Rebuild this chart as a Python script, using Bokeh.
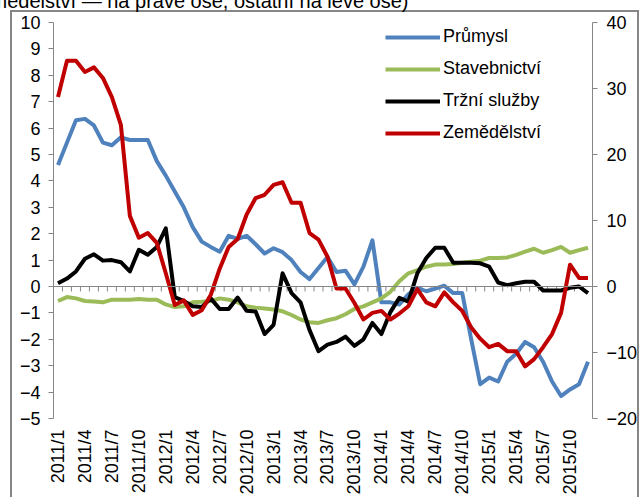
import math
from bokeh.plotting import figure
from bokeh.models import (Range1d, LinearAxis, FixedTicker, Legend, LegendItem, Span)
from bokeh.embed import file_html
from bokeh.resources import INLINE

# ---------------- data ----------------
months = [f"{y}/{m}" for y in range(2011, 2016) for m in range(1, 13)]

prumysl = [4.6, 5.45, 6.3, 6.35, 6.1, 5.45, 5.35, 5.65, 5.55, 5.55, 5.55, 4.75,
           4.2, 3.6, 3.0, 2.25, 1.7, 1.5, 1.32, 1.92, 1.8, 1.92, 1.6, 1.25,
           1.45, 1.3, 1.0, 0.55, 0.28, 0.7, 1.12, 0.55, 0.6, 0.08, 0.75, 1.75,
           -0.6, -0.6, -0.68, -0.3, -0.05, -0.18, -0.08, 0.03, -0.25, -0.25, -2.0, -3.7,
           -3.45, -3.6, -2.85, -2.55, -2.1, -2.3, -2.85, -3.6, -4.15, -3.9, -3.7, -2.85]

stavebnictvi = [-0.55, -0.4, -0.45, -0.55, -0.57, -0.6, -0.5, -0.5, -0.5, -0.47, -0.5, -0.5,
                -0.68, -0.78, -0.75, -0.6, -0.58, -0.55, -0.45, -0.5, -0.6, -0.75, -0.8, -0.83,
                -0.87, -0.94, -1.08, -1.25, -1.35, -1.38, -1.28, -1.2, -1.05, -0.85, -0.75, -0.6,
                -0.45, -0.2, 0.2, 0.5, 0.62, 0.75, 0.83, 0.83, 0.85, 0.9, 0.94, 0.98,
                1.08, 1.08, 1.1, 1.2, 1.32, 1.43, 1.28, 1.38, 1.5, 1.28, 1.38, 1.47]

trzni_sluzby = [0.12, 0.3, 0.57, 1.05, 1.22, 0.98, 1.0, 0.92, 0.57, 1.39, 1.2, 1.5,
                2.2, -0.4, -0.55, -0.75, -0.78, -0.45, -0.85, -0.85, -0.42, -0.92, -0.95, -1.8,
                -1.45, 0.5, -0.25, -0.6, -1.65, -2.45, -2.2, -2.1, -1.9, -2.25, -2.0, -1.38,
                -1.8, -0.97, -0.43, -0.57, 0.5, 1.08, 1.47, 1.47, 0.9, 0.9, 0.9, 0.88,
                0.75, 0.15, 0.05, 0.12, 0.18, 0.18, -0.15, -0.15, -0.15, -0.05, 0.0, -0.25]

zemedelstvi = [28.7, 34.2, 34.2, 32.5, 33.2, 31.6, 28.7, 24.5, 10.7, 7.4, 8.1, 6.6,
               2.0, -2.8, -2.1, -4.3, -3.6, -1.3, 2.7, 6.0, 7.2, 10.9, 13.4, 13.9,
               15.4, 15.8, 12.7, 12.7, 8.1, 7.1, 4.5, -0.3, -0.3, -2.5, -5.0, -4.0,
               -3.7, -5.0, -4.1, -3.0, -0.4, -2.4, -3.0, -0.9, -2.4, -3.7, -6.2, -7.9,
               -9.2, -8.7, -9.8, -9.8, -12.1, -11.0, -9.2, -7.2, -4.0, 3.3, 1.3, 1.3]

series_names = ["Průmysl", "Stavebnictví", "Tržní služby", "Zemědělství"]
left_ticks = list(range(-5, 11))
right_ticks = [-20, -10, 0, 10, 20, 30, 40]
label_step = 3
title_text = "(Zemědělství — na pravé ose, ostatní na levé ose)"

# ---------------- style / layout ----------------
FONT = "Liberation Sans"
FS = "18px"
GRAY = "#868686"
COLORS = ["#4F81BD", "#9BBB59", "#000000", "#C00000"]
SHIFT = 30                      # canvas part hidden above the window (cut title)
W, H = 640, 497 + SHIFT
ML, MR, MT, MB = 53, 48, 22 + SHIFT, 77
Y0, Y1 = -5, 10
R0, R1 = -20, 40

n = len(months)
x = list(range(n))
px_per_unit = (H - MT - MB) / (Y1 - Y0)

p = figure(width=W, height=H, output_backend="svg", toolbar_location=None,
           x_range=Range1d(-0.5, n - 0.5), y_range=Range1d(Y0, Y1),
           x_axis_type=None, y_axis_type=None,
           min_border_left=ML, min_border_right=MR,
           min_border_top=MT, min_border_bottom=MB,
           background_fill_color="white", border_fill_color=None)
p.outline_line_color = None
p.grid.visible = False
p.extra_y_ranges = {"right": Range1d(R0, R1)}

# chart-area border (drawn behind the transparent canvas margin)
gl = f"linear-gradient({GRAY},{GRAY})"
top_y = 10 + SHIFT
p.styles = {
    "margin-top": f"-{SHIFT}px",
    "background": (f"{gl} 10px {top_y}px / {W - 13}px 2px no-repeat, "
                   f"{gl} 10px {top_y}px / 2px {H}px no-repeat, "
                   f"{gl} {W - 3}px {top_y}px / 2px {H}px no-repeat, white"),
}

# title, partly above the window as in the source image
p.title.text = title_text
p.title.text_font = FONT
p.title.text_font_size = "20px"
p.title.text_font_style = "normal"
p.title.text_color = "black"
p.title.align = "left"
p.title.offset = -93
p.title.standoff = 22
p.title.vertical_align = "bottom"

def style_axis(ax, standoff):
    ax.axis_line_color = GRAY
    ax.axis_line_width = 1
    ax.major_tick_line_color = GRAY
    ax.major_tick_out = 5
    ax.major_tick_in = 0
    ax.minor_tick_line_color = None
    ax.major_label_text_font = FONT
    ax.major_label_text_font_size = FS
    ax.major_label_text_color = "black"
    ax.major_label_standoff = standoff

left = LinearAxis(ticker=FixedTicker(ticks=left_ticks))
style_axis(left, 8)
p.add_layout(left, "left")

right = LinearAxis(y_range_name="right", ticker=FixedTicker(ticks=right_ticks))
style_axis(right, 9)
p.add_layout(right, "right")

# labels at the bottom
lab_ticks = list(range(0, n, label_step))
bottom = LinearAxis(ticker=FixedTicker(ticks=lab_ticks),
                    major_label_overrides={i: months[i] for i in lab_ticks})
style_axis(bottom, 11)
bottom.axis_line_color = None
bottom.major_tick_line_color = None
bottom.major_tick_out = 0
bottom.major_label_orientation = math.pi / 2
p.add_layout(bottom, "below")

# category axis crossing at zero: line + ticks at category boundaries
p.add_layout(Span(location=0, dimension="width", line_color=GRAY, line_width=1))
bx = [i + 0.5 for i in range(n - 1)]
p.segment(x0=bx, x1=bx, y0=[0] * len(bx), y1=[-5 / px_per_unit] * len(bx),
          line_color=GRAY, line_width=1)

renderers = []
for ys, c, rng in [(prumysl, COLORS[0], "default"), (stavebnictvi, COLORS[1], "default"),
                   (trzni_sluzby, COLORS[2], "default"), (zemedelstvi, COLORS[3], "right")]:
    r = p.line(x, ys, line_color=c, line_width=4, line_join="round", y_range_name=rng)
    renderers.append(r)

legend = Legend(items=[LegendItem(label=nm, renderers=[r]) for nm, r in zip(series_names, renderers)],
                location=(332, 275), orientation="vertical",
                glyph_width=55, glyph_height=20, label_height=20, label_standoff=3,
                spacing=11, padding=0, margin=0,
                border_line_color=None, background_fill_alpha=0,
                label_text_font=FONT, label_text_font_size=FS, label_text_color="black")
p.add_layout(legend)

open("out.html", "w").write(file_html(p, INLINE))
